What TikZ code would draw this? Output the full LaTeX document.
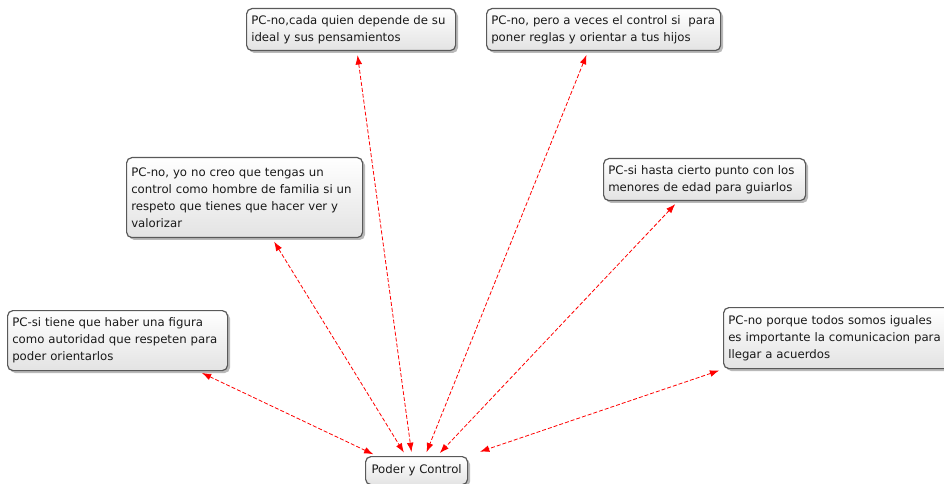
\documentclass[tikz,border=0pt]{standalone}
\usepackage{fontspec}
\setmainfont{DejaVu Sans}
\usetikzlibrary{arrows.meta,calc,shadows}

\begin{document}
\begin{tikzpicture}[
  x=0.75pt, y=-0.75pt,
  bubble/.style={draw=black!65, line width=0.9pt, rounded corners=4pt,
    top color=white, bottom color=black!11,
    drop shadow={shadow xshift=1.8pt, shadow yshift=-1.8pt, opacity=0.55},
    inner xsep=3.5pt, inner ysep=2pt, align=left, anchor=north west,
    font=\fontsize{8.8}{12.75}\selectfont, text=black!90},
  link/.style={red, dash pattern=on 3pt off 1.5pt, line width=0.6pt,
    {Latex[length=7pt,width=5pt]}-{Latex[length=7pt,width=5pt]},
    shorten <=3pt, shorten >=3pt},
]
  \useasboundingbox (0,0) rectangle (944,484);
  \clip (0,0) rectangle (944,484);

  % Center topic
  \node[bubble, align=center, minimum width=76.5pt, minimum height=21pt]
    (ctrl) at (365,456) {Poder y Control};

  % Opinions
  \node[bubble, text width=149.75pt, minimum height=31.5pt] (b1) at (246,8)
    {PC-no,cada quien depende de su\\ideal y sus pensamientos};
  \node[bubble, text width=168.5pt, minimum height=31.5pt] (b2) at (486,8)
    {PC-no, pero a veces el control si~~para\\poner reglas y orientar a tus hijos};
  \node[bubble, text width=170pt, minimum height=60pt] (b3) at (126,157)
    {PC-no, yo no creo que tengas un\\control como hombre de familia si un\\respeto que tienes que hacer ver y\\valorizar};
  \node[bubble, text width=144.5pt, minimum height=31.5pt] (b4) at (603,158)
    {PC-si hasta cierto punto con los\\menores de edad para guiarlos};
  \node[bubble, text width=158pt, minimum height=45pt] (b5) at (7,310)
    {PC-si tiene que haber una figura\\como autoridad que respeten para\\poder orientarlos};
  \node[bubble, text width=182pt, minimum height=45.75pt] (b6) at (723,307)
    {PC-no porque todos somos iguales\\es importante la comunicacion para\\llegar a acuerdos};

  % Links to the center
  \draw[link] ($(b5.south east)+(-30,0)$) -- ($(ctrl.north west)+(12,0)$);
  \draw[link] ($(b3.south west)+(146,0)$) -- ($(ctrl.north west)+(41,0)$);
  \draw[link] ($(b1.south west)+(111,0)$) -- ($(ctrl.north west)+(47,0)$);
  \draw[link] ($(b2.south west)+(102,0)$) -- ($(ctrl.north west)+(60,0)$);
  \draw[link] ($(b4.south west)+(75,0)$) -- ($(ctrl.north west)+(72,0)$);
  \draw[link] (b6.south west) -- ($(ctrl.north east)+(8,-3)$);
\end{tikzpicture}
\end{document}
